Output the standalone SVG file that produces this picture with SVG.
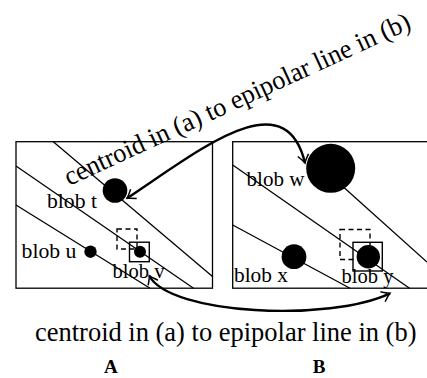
<svg xmlns="http://www.w3.org/2000/svg" width="427" height="378" viewBox="0 0 427 378">
<style>
.frame{fill:none;stroke:#000;stroke-width:1.3}
.epi{fill:none;stroke:#000;stroke-width:1.3}
.blob{fill:#000}
.box{fill:none;stroke:#000;stroke-width:1.4}
.dash{fill:none;stroke:#000;stroke-width:1.4;stroke-dasharray:5,3.5}
.lbl{font-family:"Liberation Serif","Times New Roman",serif;font-size:22px;fill:#000}
.cap{font-family:"Liberation Serif","Times New Roman",serif;font-size:27px;fill:#000}
.ttl{font-family:"Liberation Serif","Times New Roman",serif;font-size:19px;font-weight:bold;fill:#000}
.arr{fill:none;stroke:#000;stroke-width:2.4}
</style>
<defs>
<marker id="to" viewBox="-10 -7 12 14" refX="0" refY="0" markerWidth="12" markerHeight="14" markerUnits="userSpaceOnUse" orient="auto-start-reverse">
<path d="M-8,-5.5 Q-2.5,-1.2 0,0 Q-2.5,1.2 -8,5.5" fill="none" stroke="#000" stroke-width="1.5"/>
</marker>
</defs>
<rect width="427" height="378" fill="#fff"/>
<g id="frameA">
<rect class="frame" x="16" y="141.7" width="196.5" height="146.5"/>
<line class="epi" x1="53.3" y1="141.7" x2="212.5" y2="276.5"/>
<line class="epi" x1="16" y1="166" x2="193.5" y2="288.2"/>
<line class="epi" x1="16" y1="205" x2="150" y2="288.2"/>
</g>
<g id="frameB">
<rect class="frame" x="232.7" y="141.7" width="200" height="146.5"/>
<line class="epi" x1="330" y1="175" x2="427" y2="262"/>
<line class="epi" x1="232.7" y1="165" x2="409.5" y2="288.2"/>
<line class="epi" x1="232.7" y1="225" x2="350" y2="288.2"/>
</g>
<g id="blob_t">
<circle class="blob" cx="115" cy="190.5" r="12.3"/>
<text class="lbl" x="47" y="208" textLength="50" lengthAdjust="spacingAndGlyphs">blob t</text>
</g>
<g id="blob_u">
<circle class="blob" cx="90.5" cy="251.7" r="6.2"/>
<text class="lbl" x="21.5" y="258.3" textLength="55" lengthAdjust="spacingAndGlyphs">blob u</text>
</g>
<g id="blob_v">
<rect class="dash" x="117" y="229" width="20" height="20"/>
<rect class="box" x="129.5" y="242.2" width="19.8" height="19.5"/>
<circle class="blob" cx="140" cy="251.8" r="6"/>
<text class="lbl" x="112.5" y="278" textLength="52" lengthAdjust="spacingAndGlyphs">blob v</text>
</g>
<g id="blob_w">
<circle class="blob" cx="330.7" cy="168.3" r="24.5"/>
<text class="lbl" x="246.5" y="186" textLength="58" lengthAdjust="spacingAndGlyphs">blob w</text>
</g>
<g id="blob_x">
<circle class="blob" cx="294" cy="256.7" r="12.4"/>
<text class="lbl" x="234" y="281.7" textLength="54" lengthAdjust="spacingAndGlyphs">blob x</text>
</g>
<g id="blob_y">
<rect class="dash" x="340" y="229.5" width="30" height="30"/>
<rect class="box" x="353" y="242.3" width="29.3" height="28.7"/>
<circle class="blob" cx="368.3" cy="256.7" r="11.7"/>
<text class="lbl" x="341.5" y="282.7" textLength="52" lengthAdjust="spacingAndGlyphs">blob y</text>
</g>
<g id="connectors">
<path class="arr" d="M127,198.3 C200,150 285,80 305,163" marker-start="url(#to)" marker-end="url(#to)"/>
<path class="arr" d="M149.3,275.7 C170,315 330,322 390,293.3" marker-start="url(#to)" marker-end="url(#to)"/>
</g>
<g id="captions">
<text class="cap" transform="translate(69,186) rotate(-24.7)" x="0" y="0" textLength="378" lengthAdjust="spacingAndGlyphs">centroid in (a) to epipolar line in (b)</text>
<text class="cap" x="35" y="340.5" textLength="381.5" lengthAdjust="spacingAndGlyphs">centroid in (a) to epipolar line in (b)</text>
<text class="ttl" x="110.8" y="373" text-anchor="middle">A</text>
<text class="ttl" x="319" y="373" text-anchor="middle">B</text>
</g>
</svg>
